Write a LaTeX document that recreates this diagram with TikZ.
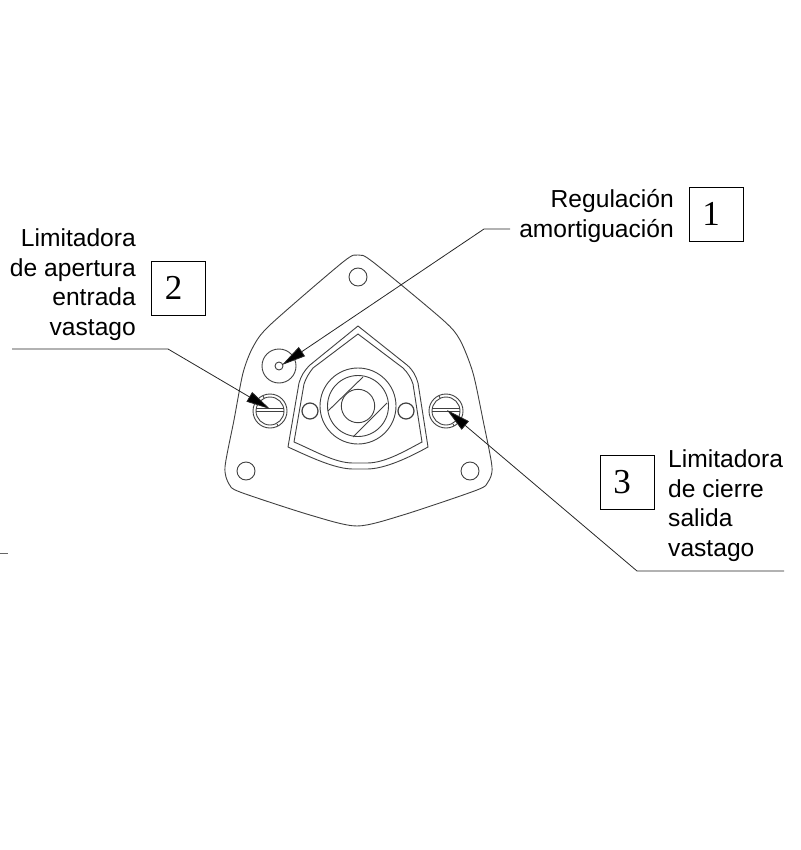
\documentclass[tikz,border=0pt]{standalone}
\usepackage{fontspec}
\setmainfont{Liberation Sans}
\newfontfamily\digitfont{Liberation Serif}
\usetikzlibrary{arrows.meta}
\definecolor{partline}{gray}{0.25}
\tikzset{
  part/.style={draw=partline, line width=0.9pt},
  leader/.style={draw=black!85, line width=0.8pt, -{Triangle[length=24pt,width=11pt,fill=black]}},
  callout/.style={font=\fontsize{24.6}{29.5}\selectfont, inner sep=0pt},
  numbox/.style={draw=black, line width=0.8pt, minimum size=54pt, inner sep=0pt, font=\digitfont\fontsize{35}{35}\selectfont, execute at begin node=\kern-10pt}
}
\begin{document}
\begin{tikzpicture}[x=1pt,y=-1pt]
\useasboundingbox (0,0) rectangle (800,850);
% mounting plate
\draw[part] plot[smooth cycle,tension=0.45] coordinates {(358,255) (343,262) (270,325) (253,347) (243,373) (234,420) (225,467) (229,484) (240,492) (310,515) (357,526) (403,515) (477,490) (488,482) (492,467) (483,420) (473,373) (460,340) (443,320) (373,262)};
\foreach \x/\y in {358/277,246/471,470/471}
{	\draw[part] (\x,\y) circle (9);
}
% seat
\draw[part] (358,326) -- (310,365) .. controls (304,371) and (301,376) .. (299,383) -- (288,447) .. controls (310,457) and (335,469) .. (353,469) -- (367,469) .. controls (385,469) and (410,457) .. (428,447) -- (418,383) .. controls (416,376) and (413,370) .. (407,365) -- cycle;
\draw[part] (358,334) -- (313,368) .. controls (309,373) and (306,378) .. (304,384) -- (294,442) .. controls (315,451) and (335,463) .. (353,463) -- (367,463) .. controls (385,463) and (405,451) .. (422,442) -- (413,384) .. controls (411,378) and (408,373) .. (403,368) -- cycle;
\foreach \r in {38,30.5,16.7}
{	\draw[part] (358,406) circle (\r);
}
\draw[part] (328,411) -- (363,377);
\draw[part] (353,437) -- (387,403);
\foreach \x in {310,406}
{	\draw[part, line width=1.2pt] (\x,411) circle (8);
}
% adjuster
\draw[part] (279,366) circle (17);
\draw[part] (279,366) circle (4);
% screws
\foreach \x in {270,446}
{	\draw[part] (\x,411) circle (17);
	\draw[part] (\x,411) circle (14);
	\draw[part] (\x-14,408.5) -- (\x+14,408.5);
	\draw[part] (\x-14,411.5) -- (\x+14,411.5);
	\draw[part] (\x-6,-13+411) -- (\x-7,-15+411);
	\draw[part] (\x+7,13+411) -- (\x+8,15+411);
}
\node[callout, align=right, anchor=east] (regtext) at (674,216) {Regulación\\amortiguación};
\node[callout, align=right, anchor=east] (apetext) at (136,284.5) {Limitadora\\de apertura\\entrada\\vastago};
\node[callout, align=left, anchor=west] (cietext) at (668,505.5) {Limitadora\\de cierre\\salida\\vastago};
\node[numbox] (boxone) at (716,214) {1};
\node[numbox] (boxtwo) at (178.5,288) {2};
\node[numbox] (boxthree) at (627,482) {3};
\coordinate (regstart) at (510,229);
\coordinate (regbend) at (484,229);
\coordinate (regtip) at (282,365);
\coordinate (apestart) at (12,349);
\coordinate (apebend) at (168,349);
\coordinate (apetip) at (270,409);
\coordinate (ciestart) at (784,571);
\coordinate (ciebend) at (637,571);
\coordinate (cietip) at (447,410);
\draw[leader] (regstart) -- (regbend) -- (regtip);
\draw[leader] (apestart) -- (apebend) -- (apetip);
\draw[leader] (ciestart) -- (ciebend) -- (cietip);
\coordinate (stubleft) at (0,553);
\coordinate (stubright) at (8,553);
\draw[draw=black!60, line width=0.8pt] (stubleft) -- (stubright);
\end{tikzpicture}
\end{document}
